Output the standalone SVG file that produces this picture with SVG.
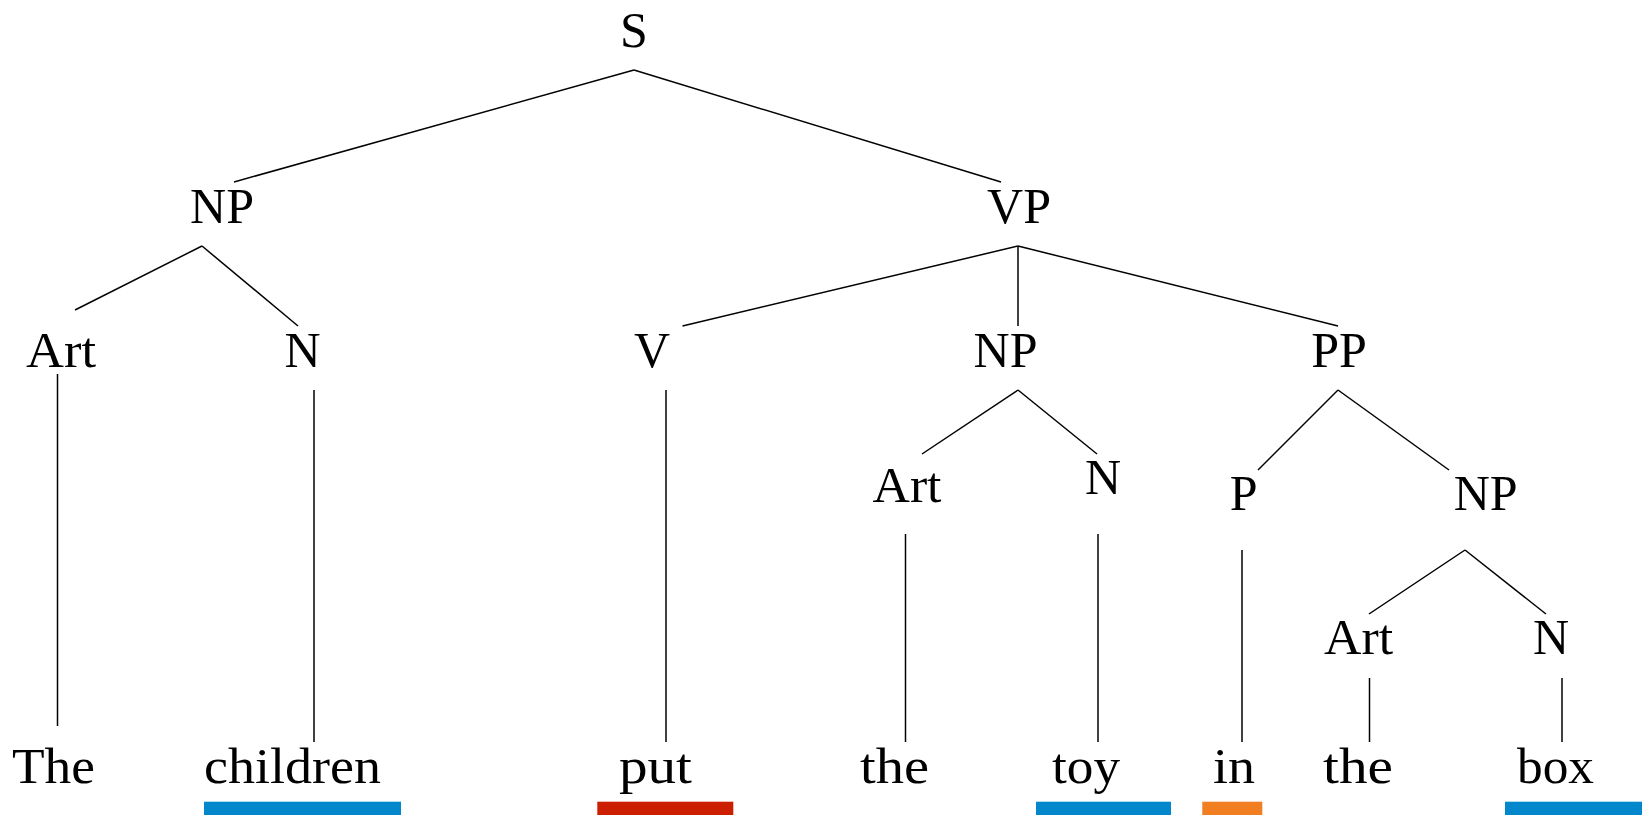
<svg xmlns="http://www.w3.org/2000/svg" width="1642" height="815" viewBox="0 0 1642 815">
<style>
text{font-family:"Liberation Serif","Times New Roman",serif;font-size:50px;fill:#000}
.c{text-anchor:middle}
.e line{stroke:#000;stroke-width:1.5;fill:none}
.blue{fill:#0287CD}.red{fill:#CC1F00}.orange{fill:#F27E22}
</style>
<rect width="1642" height="815" fill="#fff"/>
<g id="connectors" class="e">
<line x1="634" y1="70" x2="234" y2="182"/>
<line x1="634" y1="70" x2="1001" y2="182"/>
<line x1="202" y1="246" x2="75" y2="310"/>
<line x1="202" y1="246" x2="298" y2="326"/>
<line x1="1018" y1="246" x2="682.5" y2="326"/>
<line x1="1018" y1="246" x2="1018" y2="326"/>
<line x1="1018" y1="246" x2="1338" y2="326"/>
<line x1="1018" y1="390" x2="922" y2="454"/>
<line x1="1018" y1="390" x2="1097" y2="454"/>
<line x1="1338" y1="390" x2="1258" y2="470"/>
<line x1="1338" y1="390" x2="1449" y2="470"/>
<line x1="1465" y1="550" x2="1369" y2="614"/>
<line x1="1465" y1="550" x2="1546" y2="614"/>
<line x1="57.5" y1="374" x2="57.5" y2="726"/>
<line x1="314" y1="390" x2="314" y2="742"/>
<line x1="666" y1="390" x2="666" y2="742"/>
<line x1="905.5" y1="534" x2="905.5" y2="742"/>
<line x1="1098" y1="534" x2="1098" y2="742"/>
<line x1="1242" y1="550" x2="1242" y2="742"/>
<line x1="1369.5" y1="678" x2="1369.5" y2="742"/>
<line x1="1562" y1="678" x2="1562" y2="742"/>
</g>
<g id="S"><text class="c" x="634" y="47">S</text></g>
<g id="NP1"><text class="c" x="222" y="223">NP</text></g>
<g id="VP"><text class="c" x="1019" y="223">VP</text></g>
<g id="Art1"><text class="c" x="61" y="367" textLength="70" lengthAdjust="spacingAndGlyphs">Art</text></g>
<g id="N1"><text class="c" x="302.6" y="367">N</text></g>
<g id="V"><text class="c" x="652" y="367">V</text></g>
<g id="NP2"><text class="c" x="1005.5" y="367">NP</text></g>
<g id="PP"><text class="c" x="1339" y="367">PP</text></g>
<g id="Art2"><text class="c" x="907" y="502" textLength="69" lengthAdjust="spacingAndGlyphs">Art</text></g>
<g id="N2"><text class="c" x="1103" y="494">N</text></g>
<g id="P"><text class="c" x="1243.6" y="510">P</text></g>
<g id="NP3"><text class="c" x="1485.7" y="510">NP</text></g>
<g id="Art3"><text class="c" x="1358.6" y="654" textLength="69" lengthAdjust="spacingAndGlyphs">Art</text></g>
<g id="N3"><text class="c" x="1551" y="654">N</text></g>
<g id="w-The"><text x="12" y="783" textLength="83" lengthAdjust="spacingAndGlyphs">The</text></g>
<g id="w-children"><text x="204" y="783" textLength="177" lengthAdjust="spacingAndGlyphs">children</text><rect class="blue" x="204" y="801.7" width="197" height="13.3"/></g>
<g id="w-put"><text x="619" y="783" textLength="73" lengthAdjust="spacingAndGlyphs">put</text><rect class="red" x="597.3" y="801.7" width="136" height="13.3"/></g>
<g id="w-the1"><text x="860" y="783" textLength="69" lengthAdjust="spacingAndGlyphs">the</text></g>
<g id="w-toy"><text x="1052" y="783" textLength="68" lengthAdjust="spacingAndGlyphs">toy</text><rect class="blue" x="1036" y="801.7" width="135" height="13.3"/></g>
<g id="w-in"><text x="1213" y="783" textLength="42" lengthAdjust="spacingAndGlyphs">in</text><rect class="orange" x="1202.3" y="801.7" width="60" height="13.3"/></g>
<g id="w-the2"><text x="1323" y="783" textLength="70" lengthAdjust="spacingAndGlyphs">the</text></g>
<g id="w-box"><text x="1517" y="783" textLength="77" lengthAdjust="spacingAndGlyphs">box</text><rect class="blue" x="1505" y="801.7" width="137" height="13.3"/></g>
</svg>
